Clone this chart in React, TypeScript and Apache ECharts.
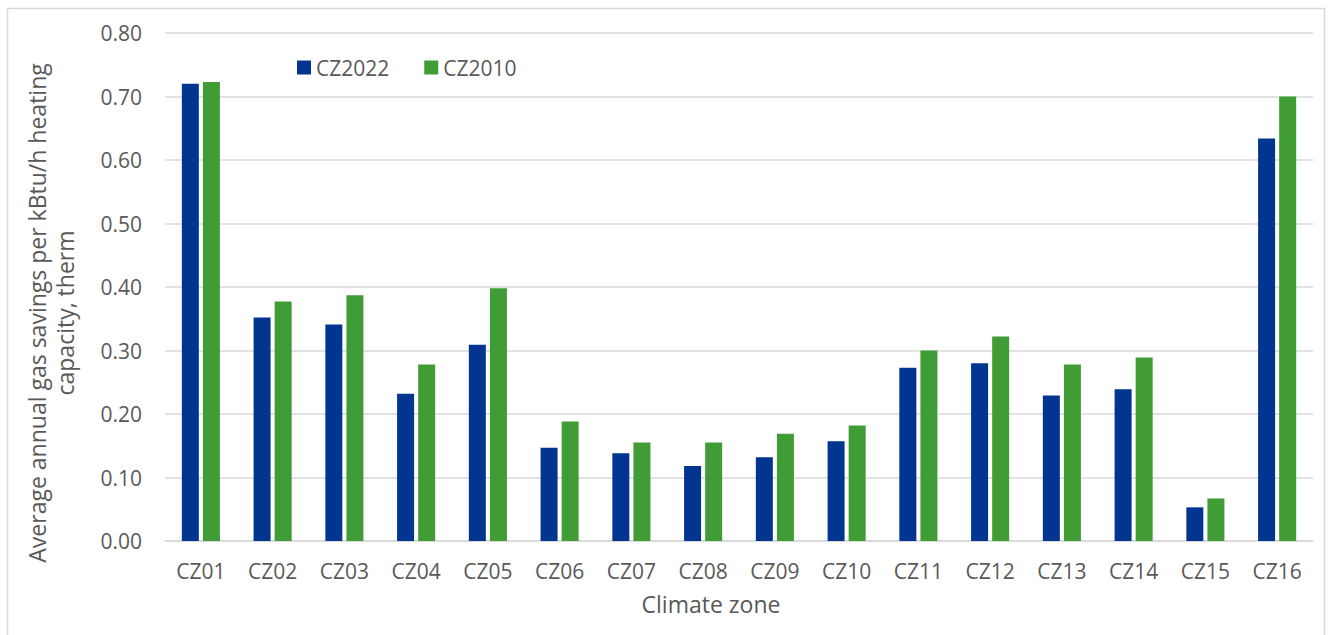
import React, { useEffect, useRef } from "react";
import * as echarts from "echarts";

const categories = ["CZ01","CZ02","CZ03","CZ04","CZ05","CZ06","CZ07","CZ08","CZ09","CZ10","CZ11","CZ12","CZ13","CZ14","CZ15","CZ16"];
const cz2022 = [0.72,0.352,0.341,0.232,0.309,0.147,0.138,0.118,0.132,0.157,0.273,0.28,0.229,0.239,0.053,0.634];
const cz2010 = [0.723,0.377,0.387,0.278,0.398,0.188,0.155,0.155,0.169,0.182,0.300,0.322,0.278,0.289,0.067,0.70];
const yMin = 0;
const yMax = 0.8;
const yInterval = 0.1;

const FONT = "'Open Sans', sans-serif";
const TEXT = "#595959";
const GRID = "#d9d9d9";

export default function App() {
  const ref = useRef<HTMLDivElement>(null);
  useEffect(() => {
    if (!ref.current) return;
    const chart = echarts.init(ref.current, undefined, { renderer: "svg" });
    chart.setOption({
      animation: false,
      backgroundColor: "#ffffff",
      textStyle: { fontFamily: FONT },
      graphic: [
        {
          type: "rect",
          shape: { x: 7.5, y: 8.5, width: 1317, height: 640 },
          style: { fill: "none", stroke: GRID, lineWidth: 1.5 },
          silent: true,
        },
        {
          type: "text",
          x: 23,
          y: 313,
          rotation: Math.PI / 2,
          style: {
            text: "Average annual gas savings per kBtu/h heating\ncapacity, therm",
            fill: TEXT,
            font: `23px ${FONT}`,
            align: "center",
            verticalAlign: "top",
            lineHeight: 28,
          },
        },
        {
          type: "text",
          x: 711,
          y: 604,
          style: {
            text: "Climate zone",
            fill: TEXT,
            font: `23px ${FONT}`,
            align: "center",
            verticalAlign: "middle",
          },
        },
      ],
      legend: {
        left: 292,
        top: 52,
        itemWidth: 14,
        itemHeight: 14,
        itemGap: 35,
        icon: "rect",
        textStyle: { color: TEXT, fontSize: 21, fontFamily: FONT },
        data: ["CZ2022", "CZ2010"],
      },
      grid: { left: 165, right: 17, top: 33, bottom: 94, containLabel: false },
      xAxis: {
        type: "category",
        data: categories,
        axisLine: { lineStyle: { color: GRID, width: 1.5 } },
        axisTick: { show: false },
        axisLabel: { color: TEXT, fontSize: 21, fontFamily: FONT, margin: 19 },
      },
      yAxis: {
        type: "value",
        min: yMin,
        max: yMax,
        interval: yInterval,
        axisLine: { show: false },
        axisTick: { show: false },
        splitLine: { lineStyle: { color: GRID, width: 1.5 } },
        axisLabel: {
          color: TEXT,
          fontSize: 21,
          fontFamily: FONT,
          margin: 23,
          formatter: (v: number) => v.toFixed(2),
        },
      },
      series: [
        {
          name: "CZ2022",
          type: "bar",
          data: cz2022,
          barWidth: 17,
          barGap: "24%",
          itemStyle: { color: "#02358F" },
        },
        {
          name: "CZ2010",
          type: "bar",
          data: cz2010,
          barWidth: 17,
          barGap: "24%",
          itemStyle: { color: "#409C34" },
        },
      ],
    });
    return () => chart.dispose();
  }, []);
  return (
    <div
      ref={ref}
      style={{ position: "fixed", left: 0, top: 0, width: 1330, height: 635 }}
    />
  );
}
